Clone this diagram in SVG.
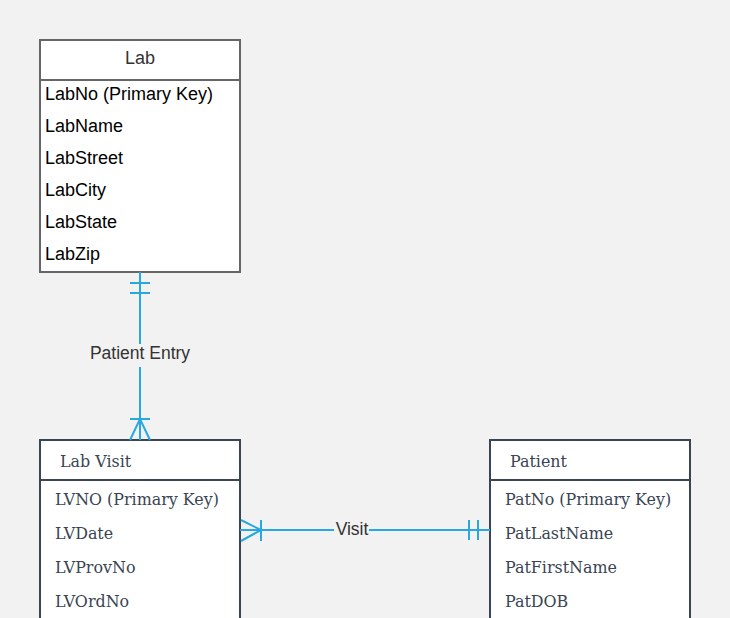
<svg xmlns="http://www.w3.org/2000/svg" width="730" height="618" viewBox="0 0 730 618">
<style>
.box{fill:#ffffff;stroke-width:2}
.lab{stroke:#666666}
.ent{stroke:#3a4452}
.sans{font-family:"Liberation Sans",Arial,sans-serif;font-size:18px;fill:#000}
.hdr{font-family:"Liberation Sans",Arial,sans-serif;font-size:18px;fill:#333}
.ser{font-family:"DejaVu Serif","Liberation Serif",serif;font-size:15.9px;fill:#3a4452}
.conn{stroke:#29a8e0;stroke-width:2;fill:none}
.lbl{font-family:"Liberation Sans",Arial,sans-serif;font-size:17.5px;fill:#333}
</style>
<rect width="730" height="618" fill="#f2f2f2"/>
<g id="lab">
<rect class="box lab" x="40" y="40" width="200" height="232"/>
<line class="lab" x1="40" y1="80" x2="240" y2="80" stroke-width="2"/>
<text class="hdr" x="140" y="64" text-anchor="middle">Lab</text>
<text class="sans" x="45" y="100">LabNo (Primary Key)</text>
<text class="sans" x="45" y="132">LabName</text>
<text class="sans" x="45" y="164">LabStreet</text>
<text class="sans" x="45" y="196">LabCity</text>
<text class="sans" x="45" y="228">LabState</text>
<text class="sans" x="45" y="260">LabZip</text>
</g>
<g id="labvisit">
<rect class="box ent" x="40" y="440" width="200" height="186"/>
<line class="ent" x1="40" y1="480" x2="240" y2="480" stroke-width="2"/>
<text class="ser" x="60" y="467">Lab Visit</text>
<text class="ser" x="55" y="505">LVNO (Primary Key)</text>
<text class="ser" x="55" y="539">LVDate</text>
<text class="ser" x="55" y="573">LVProvNo</text>
<text class="ser" x="55" y="607">LVOrdNo</text>
</g>
<g id="patient">
<rect class="box ent" x="490" y="440" width="200" height="186"/>
<line class="ent" x1="490" y1="480" x2="690" y2="480" stroke-width="2"/>
<text class="ser" x="510" y="467">Patient</text>
<text class="ser" x="505" y="505">PatNo (Primary Key)</text>
<text class="ser" x="505" y="539">PatLastName</text>
<text class="ser" x="505" y="573">PatFirstName</text>
<text class="ser" x="505" y="607">PatDOB</text>
</g>
<g id="connectors">
<path class="conn" d="M140 272 V344 M140 367 V440"/>
<path class="conn" d="M130 283 H150 M130 293 H150"/>
<path class="conn" d="M130 419 H150 M130 440 L140 419 L150 440"/>
<text class="lbl" x="140" y="359" text-anchor="middle">Patient Entry</text>
<path class="conn" d="M240 530 H334 M369 530 H490"/>
<path class="conn" d="M241 520 L261 530 L241 541 M261 520 V541"/>
<path class="conn" d="M469 520 V540 M478 520 V540"/>
<text class="lbl" x="352" y="535" text-anchor="middle">Visit</text>
</g>
</svg>
